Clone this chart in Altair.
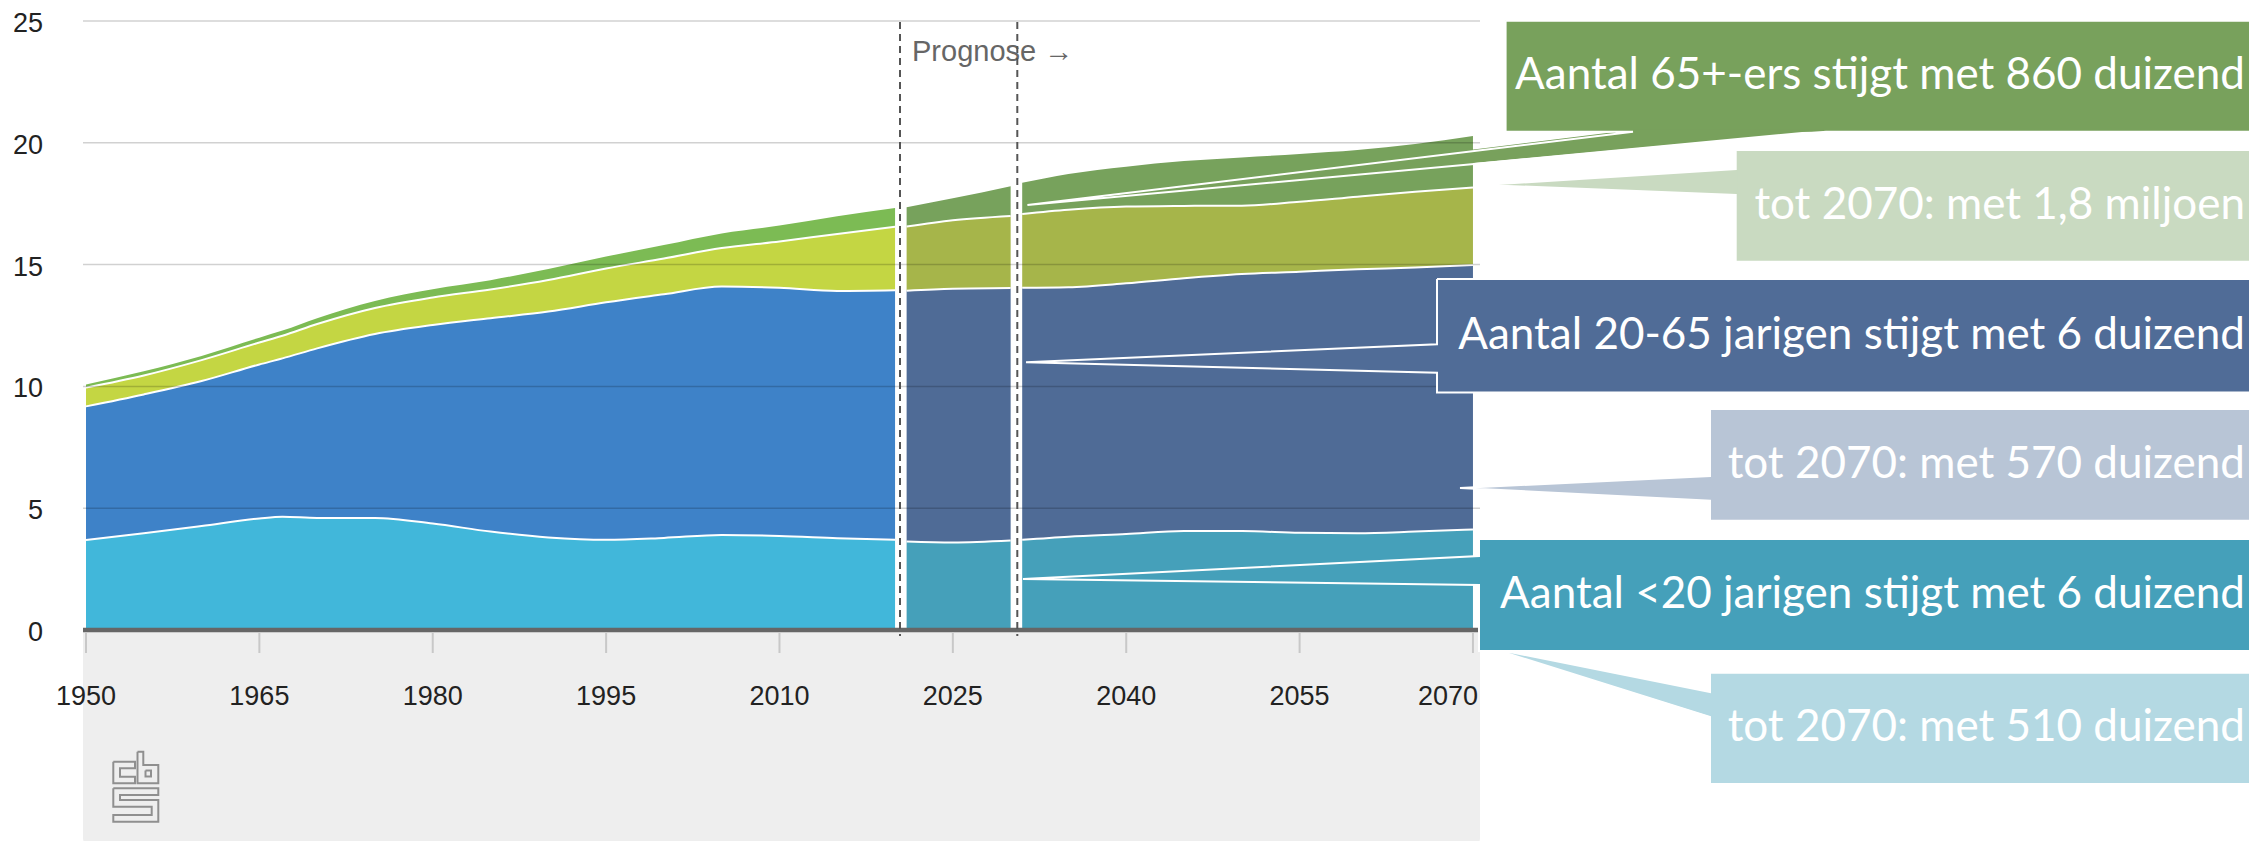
import altair as alt
import pandas as pd

# ---------------- data (millions of inhabitants) ----------------
groups = ["<20", "20-64", "65-79", "80+"]

years_hist = [1950, 1955, 1960, 1965, 1967, 1970, 1975, 1980, 1985, 1990, 1995, 2000, 2005, 2010, 2015, 2020]
under20_hist = [3.69, 3.97, 4.27, 4.58, 4.65, 4.60, 4.60, 4.37, 4.04, 3.80, 3.70, 3.78, 3.90, 3.86, 3.77, 3.70]
age20_64_hist = [5.49, 5.70, 5.95, 6.32, 6.50, 6.96, 7.55, 8.15, 8.76, 9.27, 9.75, 10.00, 10.20, 10.19, 10.15, 10.25]
age65_79_hist = [0.77, 0.78, 0.86, 0.90, 0.93, 1.00, 1.07, 1.13, 1.18, 1.30, 1.39, 1.47, 1.58, 1.90, 2.34, 2.60]
age80_hist = [0.13, 0.17, 0.17, 0.20, 0.21, 0.24, 0.29, 0.34, 0.38, 0.45, 0.49, 0.55, 0.60, 0.65, 0.72, 0.77]

years_prog = [2021, 2025, 2030, 2031, 2035, 2040, 2045, 2050, 2055, 2060, 2065, 2070]
under20_prog = [3.63, 3.59, 3.67, 3.70, 3.83, 3.94, 4.06, 4.06, 3.99, 3.97, 4.04, 4.13]
age20_64_prog = [10.30, 10.42, 10.37, 10.35, 10.24, 10.29, 10.38, 10.55, 10.72, 10.84, 10.84, 10.85]
age65_79_prog = [2.63, 2.81, 2.96, 3.03, 3.18, 3.15, 2.97, 2.81, 2.87, 2.98, 3.11, 3.19]
age80_prog = [0.79, 0.90, 1.22, 1.28, 1.47, 1.64, 1.84, 1.98, 1.96, 1.91, 1.96, 2.11]

x_ticks = [1950, 1965, 1980, 1995, 2010, 2025, 2040, 2055, 2070]
y_ticks = [0, 5, 10, 15, 20, 25]
prognose_label = "Prognose \u2192"
callout_texts = [
    "Aantal 65+-ers stijgt met 860 duizend",
    "tot 2070: met 1,8 miljoen",
    "Aantal 20-65 jarigen stijgt met 6 duizend",
    "tot 2070: met 570 duizend",
    "Aantal <20 jarigen stijgt met 6 duizend",
    "tot 2070: met 510 duizend",
]

# ---------------- layout helpers (page pixels -> data units) ----------------
PX_PER_YEAR = 11.558
X0_PX = 86.0
Y0_PX = 630.0
PX_PER_UNIT = 24.36


def X(px):
    return 1950 + (px - X0_PX) / PX_PER_YEAR


def Y(py):
    return (Y0_PX - py) / PX_PER_UNIT


XMIN, XMAX = X(83), X(1480)
XS = alt.Scale(domain=[XMIN, XMAX], nice=False, zero=False)
YS = alt.Scale(domain=[0, 25], nice=False, zero=False)


def xq(f):
    return alt.X(f, type="quantitative", scale=XS, axis=None)


def yq(f):
    return alt.Y(f, type="quantitative", scale=YS, axis=None, stack=None)


# ---------------- stacked areas ----------------
rows = []


def add(years, series, period):
    for i, yr in enumerate(years):
        seg = "hist" if yr <= 2020 else ("p1" if yr <= 2030 else "p2")
        lower = 0.0
        for g, s in zip(groups, series):
            upper = lower + s[i]
            rows.append(dict(year=yr, group=g, key=f"{g}|{period}", seg=seg,
                             lower=lower, upper=upper, line=f"{g}|{seg}"))
            lower = upper


add(years_hist, [under20_hist, age20_64_hist, age65_79_hist, age80_hist], "hist")
add(years_prog, [under20_prog, age20_64_prog, age65_79_prog, age80_prog], "prog")
df = pd.DataFrame(rows)

keys = [f"{g}|hist" for g in groups] + [f"{g}|prog" for g in groups]
colors = ["#41B7DA", "#3E82C8", "#C4D643", "#7CBB54",
          "#45A0BA", "#4F6B96", "#A6B54A", "#77A25C"]

layers = []

# grey panel under the axis
panel = pd.DataFrame([dict(x1=XMIN, x2=XMAX, y1=0, y2=Y(848))])
layers.append(alt.Chart(panel).mark_rect(color="#eeeeee", cornerRadiusBottomLeft=10,
                                         cornerRadiusBottomRight=10).encode(
    x=xq("x1"), x2="x2", y=yq("y1"), y2="y2"))

layers.append(alt.Chart(df).mark_area(interpolate="monotone").encode(
    x=xq("year"), y=yq("lower"), y2="upper",
    color=alt.Color("key:N", scale=alt.Scale(domain=keys, range=colors), legend=None),
    detail="line:N"))

layers.append(alt.Chart(df[df.group != "80+"]).mark_line(
    interpolate="monotone", color="white", strokeWidth=2).encode(
    x=xq("year"), y=yq("upper"), detail="line:N"))

# gridlines
grid = pd.DataFrame(dict(v=[t for t in y_ticks if t > 0]))
grid["x1"], grid["x2"] = XMIN, XMAX
layers.append(alt.Chart(grid).mark_rule(color="black", opacity=0.18, strokeWidth=1.5).encode(
    y=yq("v"), x=xq("x1"), x2="x2"))

# x axis: baseline, ticks, labels
base = pd.DataFrame([dict(x1=XMIN, x2=X(1478), v=0)])
layers.append(alt.Chart(base).mark_rule(color="#666666", strokeWidth=4.5).encode(
    x=xq("x1"), x2="x2", y=yq("v")))
tk = pd.DataFrame(dict(year=x_ticks, label=[str(t) for t in x_ticks]))
tk["y1"], tk["y2"] = Y(633), Y(653)
layers.append(alt.Chart(tk).mark_rule(color="#c8c8c8", strokeWidth=2).encode(
    x=xq("year"), y=yq("y1"), y2="y2"))
tk["ly"] = Y(697)
tk_main = tk.iloc[:-1]
tk_last = tk.iloc[-1:].copy()
tk_last["year"] = X(1478)
layers.append(alt.Chart(tk_main).mark_text(font="Liberation Sans", fontSize=27, color="#222222",
                                           baseline="middle", align="center").encode(
    x=xq("year"), y=yq("ly"), text="label:N"))
layers.append(alt.Chart(tk_last).mark_text(font="Liberation Sans", fontSize=27, color="#222222",
                                           baseline="middle", align="right").encode(
    x=xq("year"), y=yq("ly"), text="label:N"))

# y labels
yl = pd.DataFrame(dict(v=y_ticks, label=[str(t) for t in y_ticks]))
yl["x"] = X(43)
layers.append(alt.Chart(yl).mark_text(font="Liberation Sans", fontSize=27, color="#222222",
                                      baseline="middle", align="right", dy=3).encode(
    x=xq("x"), y=yq("v"), text="label:N"))

# Prognose label and dashed lines
pl = pd.DataFrame([dict(x=X(912), y=Y(52), t=prognose_label)])
layers.append(alt.Chart(pl).mark_text(font="Liberation Sans", fontSize=29, color="#666666",
                                      align="left", baseline="middle").encode(
    x=xq("x"), y=yq("y"), text="t:N"))
dl = pd.DataFrame(dict(x=[X(900), X(1017.3)]))
dl["y1"], dl["y2"] = Y(22), Y(636)
layers.append(alt.Chart(dl).mark_rule(color="#555555", strokeWidth=2, strokeDash=[7, 5]).encode(
    x=xq("x"), y=yq("y1"), y2="y2"))

# ---------------- callouts (annotation layout in page pixels) ----------------
RIGHT = 2275
TEXT_RIGHT = 2245
callouts = [
    dict(fill="#78A15C", box=(1505.6, 20.7, RIGHT, 131.7), kind="h",
         tip=(1027.4, 205), base=(1633, 1826), text=callout_texts[0]),
    dict(fill="#C9DAC1", box=(1735.7, 150, RIGHT, 261.7), kind="v",
         tip=(1483, 185), base=(169, 195), text=callout_texts[1]),
    dict(fill="#506C97", box=(1437, 279, RIGHT, 392.5), kind="v",
         tip=(1026, 362.3), base=(344.3, 372.7), text=callout_texts[2]),
    dict(fill="#B8C5D6", box=(1710, 409, RIGHT, 520.7), kind="v",
         tip=(1460, 488), base=(476, 500.7), text=callout_texts[3]),
    dict(fill="#B4D9E3", box=(1710, 672.7, RIGHT, 784), kind="v",
         tip=(1490, 648), base=(692, 717), text=callout_texts[5]),
    dict(fill="#45A0BA", box=(1479, 539, RIGHT, 651), kind="v",
         tip=(1023, 579), base=(556, 585), text=callout_texts[4]),
]

for c in callouts:
    bx1, by1, bx2, by2 = c["box"]
    tx, ty = c["tip"]
    rect = pd.DataFrame([dict(x1=X(bx1), x2=X(bx2), y1=Y(by1), y2=Y(by2))])
    layers.append(alt.Chart(rect).mark_rect(color=c["fill"]).encode(
        x=xq("x1"), x2="x2", y=yq("y1"), y2="y2"))
    if c["kind"] == "h":
        xl, xr = c["base"]
        w = pd.DataFrame([dict(y=Y(ty), xa=X(tx), xb=X(tx)),
                          dict(y=Y(by2 - 2), xa=X(xl), xb=X(xr))])
        layers.append(alt.Chart(w).mark_area(orient="horizontal", color=c["fill"]).encode(
            y=yq("y"), x=xq("xa"), x2="xb"))
        poly = [(bx1, by1), (bx2, by1), (bx2, by2), (xr, by2), (tx, ty), (xl, by2), (bx1, by2), (bx1, by1)]
    else:
        ya, yb = c["base"]
        w = pd.DataFrame([dict(x=X(tx), ya=Y(ty), yb=Y(ty)),
                          dict(x=X(bx1 + 2), ya=Y(ya), yb=Y(yb))])
        layers.append(alt.Chart(w).mark_area(orient="vertical", color=c["fill"]).encode(
            x=xq("x"), y=yq("ya"), y2="yb"))
        poly = [(bx1, by1), (bx2, by1), (bx2, by2), (bx1, by2), (bx1, yb), (tx, ty), (bx1, ya), (bx1, by1)]
    pdf = pd.DataFrame([dict(i=i, x=X(px), y=Y(py)) for i, (px, py) in enumerate(poly)])
    layers.append(alt.Chart(pdf).mark_line(color="white", strokeWidth=2).encode(
        x=xq("x"), y=yq("y"), order=alt.Order("i:Q")))
    tdf = pd.DataFrame([dict(x=X(TEXT_RIGHT), y=Y((by1 + by2) / 2), t=c["text"])])
    layers.append(alt.Chart(tdf).mark_text(font="Lato", fontSize=44, color="white",
                                           align="right", baseline="middle").encode(
        x=xq("x"), y=yq("y"), text="t:N"))

# ---------------- CBS logo (outline glyph) ----------------
logo_paths = {
    "c": [(113.3, 761.7), (135, 761.7), (135, 768.3), (120, 768.3), (120, 776.7), (135, 776.7),
          (135, 783.3), (113.3, 783.3), (113.3, 761.7)],
    "b": [(137.5, 751.7), (143.3, 751.7), (143.3, 765), (158.3, 765), (158.3, 783.3),
          (137.5, 783.3), (137.5, 751.7)],
    "bi": [(145.5, 770.5), (151, 770.5), (151, 776.5), (145.5, 776.5), (145.5, 770.5)],
    "s": [(113.3, 788.3), (158.3, 788.3), (158.3, 795), (120, 795), (120, 800), (158.3, 800),
          (158.3, 821.7), (113.3, 821.7), (113.3, 815), (151.7, 815), (151.7, 806.7),
          (113.3, 806.7), (113.3, 788.3)],
}
lrows = []
for k, pts in logo_paths.items():
    for i, (px, py) in enumerate(pts):
        lrows.append(dict(k=k, i=i, x=X(px), y=Y(py)))
layers.append(alt.Chart(pd.DataFrame(lrows)).mark_line(color="#8f8f8f", strokeWidth=2).encode(
    x=xq("x"), y=yq("y"), detail="k:N", order=alt.Order("i:Q")))

chart = alt.layer(*layers).properties(
    width=1397, height=609,
    autosize=alt.AutoSizeParams(type="none"),
    padding={"left": 75, "top": 13, "right": 769, "bottom": 211},
    background="white",
).configure_view(stroke=None)

chart.save("out.html", embed_options={"renderer": "svg", "actions": False})
